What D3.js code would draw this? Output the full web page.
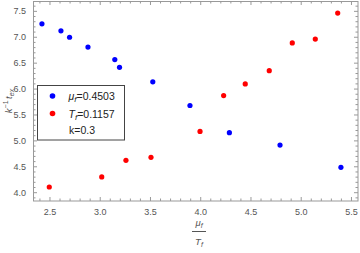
<!DOCTYPE html>
<html>
<head>
  <meta charset="utf-8">
  <script src="https://d3js.org/d3.v7.min.js"></script>
  <style>
    body { margin: 0; background: #fff; }
    text { font-family: "Liberation Sans", Arial, sans-serif; }
    .frame .domain { stroke: #999; }
    .frame line { stroke: #999; }
    .frame text { fill: #555; font-size: 9px; }
  </style>
</head>
<body>
  <svg id="plot" width="360" height="253"></svg>
  <script>
    // values
    const blueX = [2.425, 2.614, 2.70, 2.883, 3.15, 3.197, 3.528, 3.898, 4.29, 4.794, 5.40];
    const blueY = [7.25, 7.115, 6.99, 6.80, 6.56, 6.41, 6.13, 5.673, 5.148, 4.91, 4.48];
    const redX = [2.498, 3.02, 3.261, 3.51, 3.998, 4.233, 4.448, 4.687, 4.916, 5.145, 5.368];
    const redY = [4.10, 4.295, 4.615, 4.673, 5.173, 5.865, 6.09, 6.346, 6.88, 6.956, 7.456];
    const xTicks = [2.5, 3.0, 3.5, 4.0, 4.5, 5.0, 5.5];
    const yTicks = [4.0, 4.5, 5.0, 5.5, 6.0, 6.5, 7.0, 7.5];

    const plot = d3.select("svg#plot");
    const margin = { top: 1, right: 2, bottom: 52, left: 33 };
    const chartWidth = 360 - margin.left - margin.right;
    const chartHeight = 253 - margin.top - margin.bottom;

    const xScale = d3.scaleLinear().domain([2.336, 5.57]).range([0, chartWidth]);
    const yScale = d3.scaleLinear().domain([3.83, 7.69]).range([chartHeight, 0]);

    const chartArea = plot.append("g")
                          .attr("transform", "translate(" + margin.left + "," + margin.top + ")");

    const minorX = d3.range(24, 56).map(d => d / 10).filter(d => !xTicks.includes(d));
    const minorY = d3.range(39, 77).map(d => d / 10).filter(d => !yTicks.includes(d));

    // minor ticks on all sides (inward)
    const frame = chartArea.append("g").attr("class", "frame");
    frame.append("g").attr("transform", "translate(0," + chartHeight + ")")
         .call(d3.axisBottom(xScale).tickValues(minorX).tickSize(-2.5).tickFormat(""));
    frame.append("g")
         .call(d3.axisTop(xScale).tickValues(minorX).tickSize(-2.5).tickFormat(""));
    frame.append("g")
         .call(d3.axisLeft(yScale).tickValues(minorY).tickSize(-2.5).tickFormat(""));
    frame.append("g").attr("transform", "translate(" + chartWidth + ",0)")
         .call(d3.axisRight(yScale).tickValues(minorY).tickSize(-2.5).tickFormat(""));

    // major ticks
    frame.append("g").attr("transform", "translate(0," + chartHeight + ")")
         .call(d3.axisBottom(xScale).tickValues(xTicks).tickSize(-4).tickPadding(8).tickFormat(d3.format(".1f")));
    frame.append("g")
         .call(d3.axisTop(xScale).tickValues(xTicks).tickSize(-4).tickFormat(""));
    frame.append("g")
         .call(d3.axisLeft(yScale).tickValues(yTicks).tickSize(-4).tickPadding(7).tickFormat(d3.format(".1f")));
    frame.append("g").attr("transform", "translate(" + chartWidth + ",0)")
         .call(d3.axisRight(yScale).tickValues(yTicks).tickSize(-4).tickFormat(""));
    frame.selectAll(".domain").attr("d", null);
    frame.append("rect").attr("x", 0.5).attr("y", 0.5)
         .attr("width", chartWidth - 0.5).attr("height", chartHeight - 0.5)
         .attr("fill", "none").attr("stroke", "#999");

    const blue = blueX.map((x, i) => ({ x: x, y: blueY[i] }));
    const red = redX.map((x, i) => ({ x: x, y: redY[i] }));

    chartArea.selectAll("circle.blue").data(blue)
             .join("circle").attr("class", "blue")
             .attr("cx", d => xScale(d.x)).attr("cy", d => yScale(d.y))
             .attr("r", 2.6).attr("fill", "#0000ff");
    chartArea.selectAll("circle.red").data(red)
             .join("circle").attr("class", "red")
             .attr("cx", d => xScale(d.x)).attr("cy", d => yScale(d.y))
             .attr("r", 2.6).attr("fill", "#ff0000");

    // legend
    const legend = plot.append("g");
    legend.append("rect").attr("x", 37.5).attr("y", 85.5).attr("width", 87).attr("height", 54.5)
          .attr("fill", "#fff").attr("stroke", "#444").attr("stroke-width", 1);
    legend.append("circle").attr("cx", 52.5).attr("cy", 96).attr("r", 2.8).attr("fill", "#0000ff");
    legend.append("circle").attr("cx", 52.5).attr("cy", 113.5).attr("r", 2.8).attr("fill", "#ff0000");
    const t1 = legend.append("text").attr("x", 68.5).attr("y", 100).attr("font-size", 10.5).attr("fill", "#222");
    t1.append("tspan").attr("font-style", "italic").text("μ");
    t1.append("tspan").attr("font-style", "italic").attr("font-size", 8).attr("dy", 2).text("f");
    t1.append("tspan").attr("dy", -2).text("=0.4503");
    const t2 = legend.append("text").attr("x", 68.5).attr("y", 117.5).attr("font-size", 10.5).attr("fill", "#222");
    t2.append("tspan").attr("font-style", "italic").text("T");
    t2.append("tspan").attr("font-style", "italic").attr("font-size", 8).attr("dy", 2).text("f");
    t2.append("tspan").attr("dy", -2).text("=0.1157");
    legend.append("text").attr("x", 69).attr("y", 134).attr("font-size", 10.5).attr("fill", "#222").text("k=0.3");

    // y label
    const yl = plot.append("text").attr("transform", "translate(12,101) rotate(-90)")
                   .attr("text-anchor", "middle").attr("font-size", 9.5).attr("fill", "#555");
    yl.append("tspan").attr("font-style", "italic").text("k");
    yl.append("tspan").attr("font-size", 7).attr("dy", -4).text("−1");
    yl.append("tspan").attr("font-style", "italic").attr("dy", 4).attr("dx", 1.5).text("t");
    yl.append("tspan").attr("font-size", 7).attr("font-style", "italic").attr("dy", 2).text("ex");

    // x label (fraction)
    const cx = 199;
    const xl1 = plot.append("text").attr("x", cx).attr("y", 226).attr("text-anchor", "middle")
                    .attr("font-size", 9.5).attr("fill", "#555");
    xl1.append("tspan").attr("font-style", "italic").text("μ");
    xl1.append("tspan").attr("font-style", "italic").attr("font-size", 7).attr("dy", 2).text("f");
    plot.append("line").attr("x1", cx - 7).attr("x2", cx + 7).attr("y1", 231.5).attr("y2", 231.5)
        .attr("stroke", "#555").attr("stroke-width", 1);
    const xl2 = plot.append("text").attr("x", cx).attr("y", 245).attr("text-anchor", "middle")
                    .attr("font-size", 9.5).attr("fill", "#555");
    xl2.append("tspan").attr("font-style", "italic").text("T");
    xl2.append("tspan").attr("font-style", "italic").attr("font-size", 7).attr("dy", 2).text("f");
  </script>
</body>
</html>
